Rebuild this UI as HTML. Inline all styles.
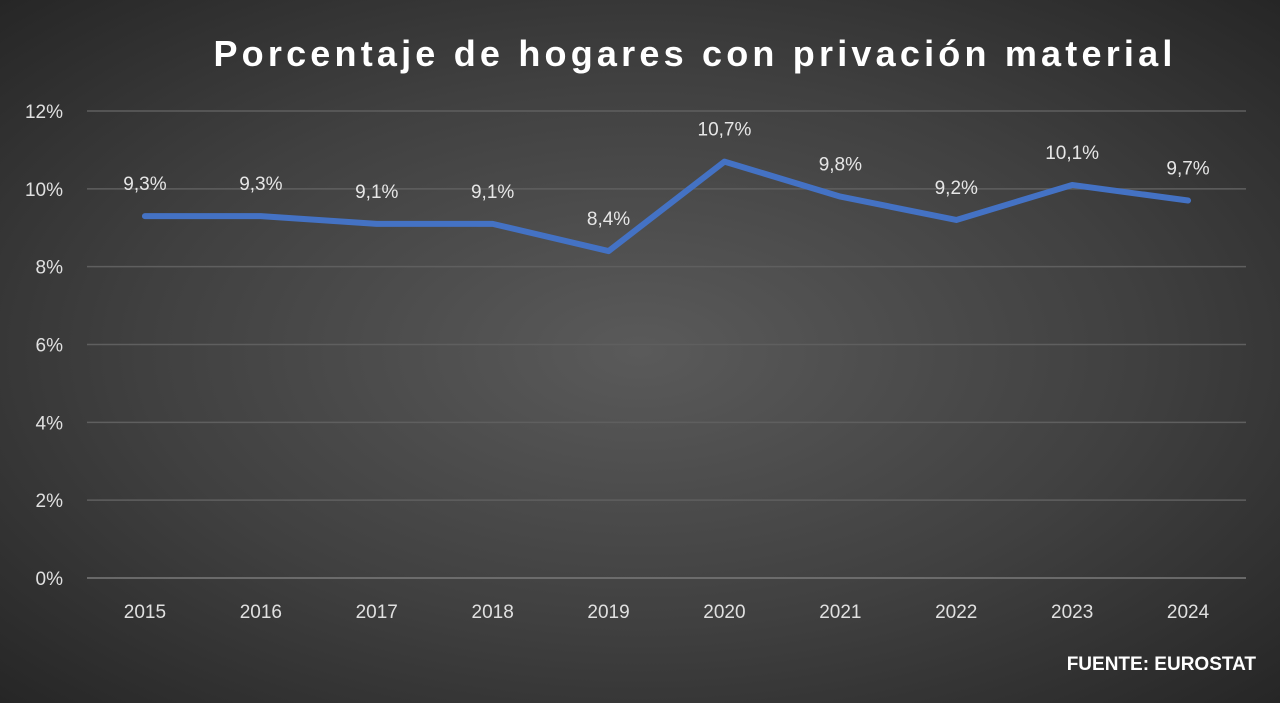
<!DOCTYPE html>
<html><head><meta charset="utf-8"><style>
html,body{margin:0;padding:0;}
body{width:1280px;height:703px;overflow:hidden;background:radial-gradient(ellipse at 50% 50%,#5a5a5a 0%,#404040 55%,#262626 100%);font-family:"Liberation Sans",sans-serif;}
svg{display:block}
</style></head><body>
<svg width="1280" height="703">
<text x="695" y="66" text-anchor="middle" fill="#fff" font-size="36" font-weight="bold" letter-spacing="4.2">Porcentaje de hogares con privación material</text>
<g id="grid"></g><g id="plot"></g>
<text x="1256" y="670" text-anchor="end" fill="#fff" font-size="19" font-weight="bold">FUENTE: EUROSTAT</text>
</svg>
<script>
const years=["2015","2016","2017","2018","2019","2020","2021","2022","2023","2024"];
const values=[9.3,9.3,9.1,9.1,8.4,10.7,9.8,9.2,10.1,9.7];
const labels=["9,3%","9,3%","9,1%","9,1%","8,4%","10,7%","9,8%","9,2%","10,1%","9,7%"];
const yTicks=[0,2,4,6,8,10,12];
const NS="http://www.w3.org/2000/svg";
const L=87,R=1246,T=111,B=578,yMax=12;
const xs=i=>L+(R-L)/years.length*(i+0.5);
const ys=v=>B-(B-T)*v/yMax;
const grid=document.getElementById('grid'),plot=document.getElementById('plot');
function mk(tag,attrs,parent,txt){const e=document.createElementNS(NS,tag);for(const k in attrs)e.setAttribute(k,attrs[k]);if(txt!=null)e.textContent=txt;parent.appendChild(e);return e;}
yTicks.forEach(t=>{
 const l=mk('line',{x1:L,x2:R,y1:ys(t),y2:ys(t),stroke:t===0?'#7a7a7a':'#5f5f5f','stroke-width':1.5},grid);
 
 
 const tx=mk('text',{x:63,y:ys(t)+7,'text-anchor':'end',fill:'#e0e0e0','font-size':19},grid,t+'%');
 
 
});
years.forEach((y,i)=>{
 const tx=mk('text',{x:xs(i),y:618,'text-anchor':'middle',fill:'#e0e0e0','font-size':19},grid,y);
 
 
});
const pts=values.map((v,i)=>xs(i)+','+ys(v)).join(' ');
const line=mk('polyline',{points:pts,fill:'none',stroke:'#4472C4','stroke-width':6,'stroke-linejoin':'round','stroke-linecap':'round'},plot);


values.forEach((v,i)=>{
 const tx=mk('text',{x:xs(i),y:ys(v)-26,'text-anchor':'middle',fill:'#e6e6e6','font-size':19},plot,labels[i]);
 
 
});
</script>
</body></html>
